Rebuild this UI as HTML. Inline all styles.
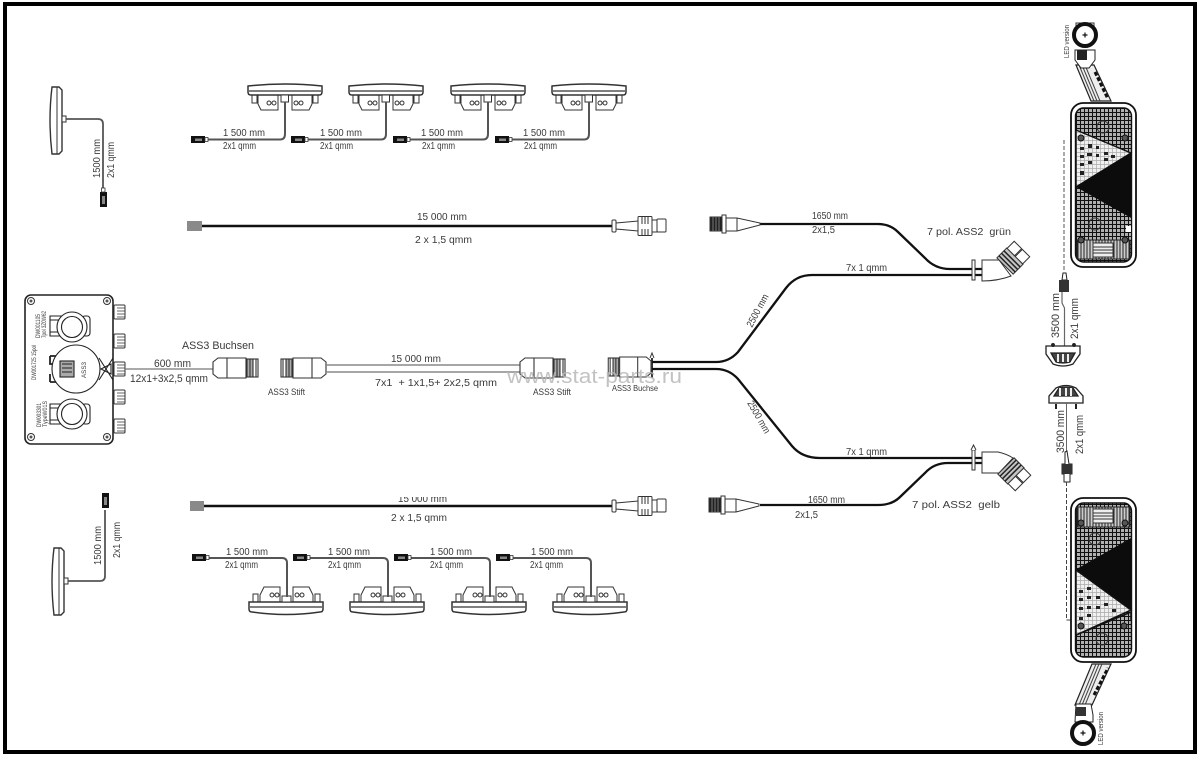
<!DOCTYPE html>
<html><head><meta charset="utf-8"><style>
html,body{margin:0;padding:0;background:#fff;width:1200px;height:757px;overflow:hidden}
svg{display:block;filter:blur(.3px)}
text{font-family:"Liberation Sans",sans-serif;fill:#3a3a3a;font-size:10px}
</style></head><body>
<svg width="1200" height="757" viewBox="0 0 1200 757" xmlns="http://www.w3.org/2000/svg">
<defs>
<pattern id="grid" width="4" height="4" patternUnits="userSpaceOnUse"><rect width="4" height="4" fill="#b0b0b0"/><path d="M0 .5H4M.5 0V4" stroke="#111" stroke-width="1"/></pattern>
<pattern id="light" width="4" height="4" patternUnits="userSpaceOnUse"><rect width="4" height="4" fill="#f0f0f0"/><path d="M0 .5H4M.5 0V4" stroke="#aaa" stroke-width=".7"/></pattern>
<pattern id="vert" width="3" height="3" patternUnits="userSpaceOnUse"><rect width="3" height="3" fill="#ccc"/><path d="M1 0V3" stroke="#222" stroke-width="1"/></pattern>
<g id="lampT" fill="#fff" stroke="#333" stroke-width="1">
<path d="M4 12V20H9V12Z"/><path d="M65 12V20H70V12Z"/>
<path d="M10 12H30V27H13L10 21Z"/><path d="M44 12H64V21L61 27H44Z"/>
<circle cx="21" cy="20" r="2"/><circle cx="26" cy="20" r="2"/><circle cx="48" cy="20" r="2"/><circle cx="53" cy="20" r="2"/>
<path d="M0 3Q37 -1 74 3V9Q74 12 71 12H3Q0 12 0 9Z" stroke-width="1.500"/><path d="M1 8H73" stroke-width="1.200"/>
<rect x="33" y="12" width="7.500" height="7"/>
</g>
<g id="lampB" fill="#fff" stroke="#333" stroke-width="1">
<path d="M4 15V7H9V15Z"/><path d="M66 15V7H71V15Z"/>
<path d="M11 15V8L15 0H31V15Z"/><path d="M44 15V0H60L64 8V15Z"/>
<circle cx="23" cy="8" r="2"/><circle cx="28" cy="8" r="2"/><circle cx="48" cy="8" r="2"/><circle cx="53" cy="8" r="2"/>
<path d="M0 15H74V22Q74 25 71 25Q37 30 3 25Q0 25 0 22Z" stroke-width="1.500"/><path d="M1 20H73" stroke-width="1.200"/>
<rect x="33" y="9" width="9" height="6"/>
</g>
<g id="plugH"><rect x="0" y="0" width="14" height="7" fill="#111"/><rect x="4" y="2.500" width="7" height="2.500" fill="#888"/><rect x="14" y="1.500" width="3" height="4" fill="#fff" stroke="#333" stroke-width=".8"/></g>
<g id="stub" fill="#fff" stroke="#333" stroke-width="1"><rect x="0" y="0" width="11" height="14" rx="1"/><path d="M3 3H11M3 6H11M3 9H11M3 12H11" stroke-width=".8"/></g>
<g id="male" fill="#fff" stroke="#333" stroke-width="1">
<rect x="0" y="-6" width="4" height="12" rx="1"/><path d="M4 -3L26 -5V5L4 3Z"/>
<rect x="26" y="-9.500" width="14" height="19" rx="1"/><path d="M30 -9V-2M33 -9V-2M36 -9V-2M30 9V3M33 9V3M36 9V3"/>
<rect x="40" y="-6" width="5" height="12"/><rect x="45" y="-7" width="9" height="13" rx="1"/>
</g>
<g id="female" fill="#fff" stroke="#333" stroke-width="1">
<rect x="0" y="-7" width="12" height="14" fill="#222"/><path d="M3 -7V7M6 -7V7M9 -7V7" stroke="#777"/>
<rect x="12" y="-9" width="4" height="18"/><path d="M16 -6H27L50 -1V1L27 7H16Z"/><path d="M27 -6V7"/>
</g>
<g id="head" fill="#fff" stroke="#333" stroke-width="1">
<rect x="0" y="-11.500" width="14" height="23" fill="#c4c4c4"/>
<path d="M3 -11.500V11.500M6.500 -11.500V11.500M10 -11.500V11.500" stroke="#222" stroke-width="1.500"/>
<rect x="14" y="-11" width="10" height="10.500"/><rect x="14" y=".5" width="10" height="10.500"/>
</g>
<g id="ass" fill="#fff" stroke="#333" stroke-width="1.100">
<path d="M0 -6L5 -10H33V10H5L0 6Z"/><path d="M14 -10V10"/><rect x="34" y="-9" width="6" height="18" fill="#aaa"/><rect x="40" y="-9" width="5" height="18" fill="#fff"/><path d="M37 -9V9M43 -9V9"/>
</g>
</defs>
<rect width="1200" height="757" fill="#fff"/>
<rect x="5" y="4" width="1190" height="748" fill="none" stroke="#000" stroke-width="4"/>

<!-- left-top side lamp -->
<g fill="#fff" stroke="#333"><path d="M52 87H59L62 90V151L59 154H52Q48 120 52 87Z" stroke-width="1.400"/><path d="M57 87V154"/><rect x="62" y="116" width="4" height="6"/></g>
<path d="M66 119H98Q103 119 103 124V190" fill="none" stroke="#555" stroke-width="1.800"/>
<rect x="100" y="192" width="7" height="15" fill="#111"/><rect x="102" y="196" width="3" height="8" fill="#888"/><rect x="101.500" y="188" width="3.500" height="4" fill="#fff" stroke="#333" stroke-width=".8"/>
<text transform="translate(100,178) rotate(-90)" textLength="39" lengthAdjust="spacingAndGlyphs">1500 mm</text>
<text transform="translate(114,178) rotate(-90)" textLength="36" lengthAdjust="spacingAndGlyphs">2x1 qmm</text>

<!-- top lamps -->
<use href="#lampT" x="248" y="83"/><use href="#lampT" x="349" y="83"/><use href="#lampT" x="451" y="83"/><use href="#lampT" x="552" y="83"/>
<g fill="none" stroke="#555" stroke-width="2">
<path d="M208 139.500H280Q285 139.500 285 134V102"/><path d="M308 139.500H381Q386 139.500 386 134V102"/><path d="M410 139.500H483Q488 139.500 488 134V102"/><path d="M512 139.500H584Q589 139.500 589 134V102"/>
</g>
<use href="#plugH" x="191" y="136"/><use href="#plugH" x="291" y="136"/><use href="#plugH" x="393" y="136"/><use href="#plugH" x="495" y="136"/>
<g>
<text x="223" y="136" textLength="42" lengthAdjust="spacingAndGlyphs">1 500 mm</text><text x="223" y="149" textLength="33" lengthAdjust="spacingAndGlyphs">2x1 qmm</text>
<text x="320" y="136" textLength="42" lengthAdjust="spacingAndGlyphs">1 500 mm</text><text x="320" y="149" textLength="33" lengthAdjust="spacingAndGlyphs">2x1 qmm</text>
<text x="421" y="136" textLength="42" lengthAdjust="spacingAndGlyphs">1 500 mm</text><text x="422" y="149" textLength="33" lengthAdjust="spacingAndGlyphs">2x1 qmm</text>
<text x="523" y="136" textLength="42" lengthAdjust="spacingAndGlyphs">1 500 mm</text><text x="524" y="149" textLength="33" lengthAdjust="spacingAndGlyphs">2x1 qmm</text>
</g>

<!-- long line 1 -->
<rect x="187" y="221" width="15" height="10" fill="#8a8a8a"/>
<path d="M202 226H612" stroke="#111" stroke-width="2.400"/>
<use href="#male" x="612" y="226"/>
<text x="417" y="220" textLength="50" lengthAdjust="spacingAndGlyphs">15 000 mm</text>
<text x="415" y="243" textLength="57" lengthAdjust="spacingAndGlyphs">2 x 1,5 qmm</text>

<!-- control box -->
<rect x="25" y="295" width="88" height="149" rx="6" fill="#fff" stroke="#222" stroke-width="1.600"/>
<g fill="#fff" stroke="#333"><circle cx="31" cy="301" r="3.500"/><circle cx="107" cy="301" r="3.500"/><circle cx="31" cy="437" r="3.500"/><circle cx="107" cy="437" r="3.500"/></g>
<g fill="#555"><circle cx="31" cy="301" r="1.500"/><circle cx="107" cy="301" r="1.500"/><circle cx="31" cy="437" r="1.500"/><circle cx="107" cy="437" r="1.500"/></g>
<use href="#stub" x="114" y="305"/><use href="#stub" x="114" y="334"/><use href="#stub" x="114" y="362"/><use href="#stub" x="114" y="390"/><use href="#stub" x="114" y="419"/>
<g fill="#fff" stroke="#222" stroke-width="1.100">
<path d="M50 316H62V336H50Z"/><path d="M50 320H62M50 332H62"/><rect x="82" y="316" width="8" height="20" rx="3"/><circle cx="72" cy="327" r="15"/><circle cx="72" cy="327" r="10.500"/>
<path d="M50 404H62V424H50Z"/><path d="M50 408H62M50 420H62"/><rect x="82" y="404" width="8" height="20" rx="3"/><circle cx="72" cy="414" r="15"/><circle cx="72" cy="414" r="10.500"/>
<path d="M50 356H62M50 356V364H60V382M50 382H62M50 374V382" fill="none" stroke-width="1.800"/>
<circle cx="76" cy="369" r="24"/>
<rect x="60" y="361" width="14" height="16" fill="#aaa"/><path d="M62 364H72M62 368H72M62 372H72"/>
<path d="M99 358L113 380M113 358L99 380M101 369L111 364V374Z"/>
</g>
<text transform="translate(40,338) rotate(-90)" textLength="24" lengthAdjust="spacingAndGlyphs" style="font-size:6px">DW001105</text>
<text transform="translate(46,338) rotate(-90)" textLength="27" lengthAdjust="spacingAndGlyphs" style="font-size:6px">7pol 3Z0W62</text>
<text transform="translate(41,427) rotate(-90)" textLength="24" lengthAdjust="spacingAndGlyphs" style="font-size:6px">DW003301</text>
<text transform="translate(47,427) rotate(-90)" textLength="26" lengthAdjust="spacingAndGlyphs" style="font-size:6px">TypeW01S</text>
<text transform="translate(36,380) rotate(-90)" textLength="35" lengthAdjust="spacingAndGlyphs" style="font-size:6px">DW001725 15pol</text>
<text transform="translate(86,378) rotate(-90)" textLength="16" lengthAdjust="spacingAndGlyphs" style="font-size:6px">ASS3</text>

<!-- central harness -->
<path d="M125 369H213" stroke="#777" stroke-width="1.300"/>
<use href="#ass" x="213" y="368"/>
<text x="182" y="349" textLength="72" lengthAdjust="spacingAndGlyphs" style="font-size:11px">ASS3 Buchsen</text>
<text x="154" y="367" textLength="37" lengthAdjust="spacingAndGlyphs" style="font-size:11px">600 mm</text>
<text x="130" y="382" textLength="78" lengthAdjust="spacingAndGlyphs" style="font-size:11px">12x1+3x2,5 qmm</text>
<g transform="translate(326,368) scale(-1,1)"><use href="#ass"/></g>
<path d="M325 365H522M325 372H522" stroke="#888" stroke-width="1.400"/>
<use href="#ass" x="520" y="368"/>
<text x="268" y="395" textLength="37" lengthAdjust="spacingAndGlyphs" style="font-size:9px">ASS3 Stift</text>
<text x="391" y="362" textLength="50" lengthAdjust="spacingAndGlyphs">15 000 mm</text>
<text x="375" y="386" textLength="122" lengthAdjust="spacingAndGlyphs" xml:space="preserve">7x1  + 1x1,5+ 2x2,5 qmm</text>
<text x="533" y="395" textLength="38" lengthAdjust="spacingAndGlyphs" style="font-size:9px">ASS3 Stift</text>
<g transform="translate(651,367) scale(-1,1)"><use href="#ass" transform="scale(.95,1)"/></g>
<text x="612" y="391" textLength="46" lengthAdjust="spacingAndGlyphs" style="font-size:8px">ASS3 Buchse</text>
<path d="M652 354V378" stroke="#333" stroke-width="2"/><path d="M650 358L652 353L654 358" fill="#fff" stroke="#333"/>

<!-- Y branches -->
<g fill="none" stroke="#111" stroke-width="2.300">
<path d="M652 362H716Q729 362 738 352L786 288Q796 275 812 275H982"/>
<path d="M652 369H716Q729 369 738 379L792 446Q802 458 820 458H982"/>
<path d="M760 224H878Q890 224 898 232L925 258Q935 269 950 269H982"/>
<path d="M760 505H878Q892 505 900 497L925 473Q934 463 948 463H982"/>
</g>
<!-- watermark -->
<text x="507" y="383" textLength="175" lengthAdjust="spacingAndGlyphs" style="font-size:20px;fill:#b8b8b8;opacity:.85">www.stat-parts.ru</text>

<use href="#female" x="710" y="224"/>
<use href="#female" x="709" y="505"/>
<text x="812" y="219" textLength="36" lengthAdjust="spacingAndGlyphs">1650 mm</text>
<text x="812" y="233" textLength="23" lengthAdjust="spacingAndGlyphs">2x1,5</text>
<text x="846" y="271" textLength="41" lengthAdjust="spacingAndGlyphs">7x 1 qmm</text>
<text x="846" y="455" textLength="41" lengthAdjust="spacingAndGlyphs">7x 1 qmm</text>
<text x="808" y="503" textLength="37" lengthAdjust="spacingAndGlyphs">1650 mm</text>
<text x="795" y="518" textLength="23" lengthAdjust="spacingAndGlyphs">2x1,5</text>
<text transform="translate(752,328) rotate(-62)" textLength="36" lengthAdjust="spacingAndGlyphs">2500 mm</text>
<text transform="translate(747,403) rotate(60)" textLength="36" lengthAdjust="spacingAndGlyphs">2500 mm</text>
<text x="927" y="235" textLength="84" lengthAdjust="spacingAndGlyphs" xml:space="preserve">7 pol. ASS2  grün</text>
<text x="912" y="508" textLength="88" lengthAdjust="spacingAndGlyphs" xml:space="preserve">7 pol. ASS2  gelb</text>

<!-- angled plugs -->
<g stroke="#333" fill="#fff">
<path d="M982 260H999L1011 276Q998 281 982 281Z"/>
<rect x="972" y="260" width="3" height="20" stroke-width="1"/>
<use href="#head" transform="translate(1005,266) rotate(-45)"/>
</g>
<g stroke="#333" fill="#fff">
<path d="M982 452H998Q1007 454 1013 458L999 473H982Z"/>
<rect x="972" y="450" width="3" height="20" stroke-width="1"/>
<path d="M971 450L973.500 445L976 450" />
<use href="#head" transform="translate(1006,466) rotate(45)"/>
</g>

<!-- long line 2 -->
<rect x="190" y="501" width="14" height="10" fill="#8a8a8a"/>
<path d="M204 506H612" stroke="#111" stroke-width="2.400"/>
<use href="#male" x="612" y="506"/>
<text x="398" y="502" textLength="49" lengthAdjust="spacingAndGlyphs">15 000 mm</text>
<text x="391" y="521" textLength="56" lengthAdjust="spacingAndGlyphs">2 x 1,5 qmm</text>
<rect x="380" y="488" width="80" height="9" fill="#fff"/>

<!-- bottom-left side lamp -->
<g fill="#fff" stroke="#333"><path d="M54 548H61L64 551V612L61 615H54Q50 581 54 548Z" stroke-width="1.400"/><path d="M59 548V615"/><rect x="64" y="578" width="4" height="6"/></g>
<path d="M68 581H100Q105 581 105 576V510" fill="none" stroke="#555" stroke-width="1.800"/>
<rect x="102" y="493" width="7" height="15" fill="#111"/><rect x="104" y="497" width="3" height="8" fill="#888"/>
<text transform="translate(101,565) rotate(-90)" textLength="39" lengthAdjust="spacingAndGlyphs">1500 mm</text>
<text transform="translate(120,558) rotate(-90)" textLength="36" lengthAdjust="spacingAndGlyphs">2x1 qmm</text>

<!-- bottom lamps -->
<use href="#lampB" x="249" y="587"/><use href="#lampB" x="350" y="587"/><use href="#lampB" x="452" y="587"/><use href="#lampB" x="553" y="587"/>
<g fill="none" stroke="#555" stroke-width="2">
<path d="M209 558H282Q287 558 287 563V597"/><path d="M310 558H383Q388 558 388 563V597"/><path d="M411 558H485Q490 558 490 563V597"/><path d="M513 558H586Q591 558 591 563V597"/>
</g>
<use href="#plugH" x="192" y="554"/><use href="#plugH" x="293" y="554"/><use href="#plugH" x="394" y="554"/><use href="#plugH" x="496" y="554"/>
<text x="226" y="555" textLength="42" lengthAdjust="spacingAndGlyphs">1 500 mm</text><text x="225" y="568" textLength="33" lengthAdjust="spacingAndGlyphs">2x1 qmm</text>
<text x="328" y="555" textLength="42" lengthAdjust="spacingAndGlyphs">1 500 mm</text><text x="328" y="568" textLength="33" lengthAdjust="spacingAndGlyphs">2x1 qmm</text>
<text x="430" y="555" textLength="42" lengthAdjust="spacingAndGlyphs">1 500 mm</text><text x="430" y="568" textLength="33" lengthAdjust="spacingAndGlyphs">2x1 qmm</text>
<text x="531" y="555" textLength="42" lengthAdjust="spacingAndGlyphs">1 500 mm</text><text x="530" y="568" textLength="33" lengthAdjust="spacingAndGlyphs">2x1 qmm</text>

<!-- right top rear lamp -->
<path d="M1076 23H1094V30H1076Z" fill="#fff" stroke="#333"/>
<circle cx="1085" cy="35" r="11" fill="#fff" stroke="#111" stroke-width="4"/><path d="M1082.500 35H1087.500M1085 32.500V37.500" stroke="#111" stroke-width="1.200"/>
<path d="M1076 65L1091 101H1111L1094 65Z" fill="#eee" stroke="#222" stroke-width="1.200"/>
<path d="M1079 65L1094 101M1082 65L1097 101M1085 65L1100 101" stroke="#444"/><path d="M1095 72L1108 99" stroke="#111" stroke-width="3" stroke-dasharray="4 2"/>
<path d="M1075 50H1095V60L1089 68H1081L1075 60Z" fill="#fff" stroke="#222"/><rect x="1077" y="50" width="10" height="10" fill="#222"/>
<text transform="translate(1069,58) rotate(-90)" textLength="33" lengthAdjust="spacingAndGlyphs" style="font-size:7px">LED version</text>

<g>
<rect x="1071" y="103" width="65" height="164" rx="12" fill="#fff" stroke="#111" stroke-width="1.800"/>
<rect x="1075.500" y="108" width="56" height="154" rx="8" fill="url(#grid)" stroke="#111" stroke-width="1.400"/>
<path d="M1076 130L1131 153L1076 187Z" fill="url(#light)" stroke="#111" stroke-width="1.400"/>
<g fill="#222"><rect x="1080" y="147" width="4" height="3"/><rect x="1088" y="144" width="4" height="4"/><rect x="1096" y="146" width="3" height="3"/><rect x="1080" y="155" width="4" height="3"/><rect x="1087" y="153" width="5" height="3"/><rect x="1096" y="154" width="3" height="3"/><rect x="1104" y="152" width="4" height="3"/><rect x="1111" y="155" width="4" height="3"/><rect x="1080" y="163" width="4" height="3"/><rect x="1088" y="161" width="4" height="3"/><rect x="1104" y="158" width="4" height="3"/><rect x="1080" y="171" width="4" height="4"/></g>
<path d="M1075 187L1131 153V218Z" fill="#0c0c0c"/>
<path d="M1076 187L1131 218V240H1076Z" fill="url(#grid)"/>
<rect x="1126" y="226" width="5" height="6" fill="#fff"/>
<rect x="1077" y="240" width="53" height="19" fill="url(#vert)" stroke="#222"/>
<rect x="1093" y="243" width="20" height="14" fill="#eee" stroke="#333"/><path d="M1093 247H1113M1093 250H1113M1093 253H1113" stroke="#333"/>
<g fill="#555" stroke="#111"><circle cx="1081" cy="138" r="3"/><circle cx="1125" cy="138" r="3"/><circle cx="1081" cy="240" r="3"/><circle cx="1125" cy="240" r="3"/></g>
<circle cx="1103" cy="127" r="6" fill="none" stroke="#333"/><circle cx="1095" cy="224" r="6" fill="none" stroke="#333"/>
</g>

<path d="M1064 140V272" stroke="#555" stroke-width="1" stroke-dasharray="4 2"/>
<!-- mid small lamps -->
<path d="M1062 280L1063 273H1066L1067 280Z" fill="#fff" stroke="#222"/><rect x="1059" y="280" width="10" height="12" fill="#333"/>
<path d="M1062 292V303L1064.500 308V346" fill="none" stroke="#666" stroke-width="1.200"/>
<text transform="translate(1059,338) rotate(-90)" textLength="45" lengthAdjust="spacingAndGlyphs" style="font-size:11px">3500 mm</text>
<text transform="translate(1078,339) rotate(-90)" textLength="41" lengthAdjust="spacingAndGlyphs" style="font-size:11px">2x1 qmm</text>
<g fill="#fff" stroke="#222" stroke-width="1.300">
<path d="M1046 346H1080V354L1073 364Q1063 368 1053 364L1046 354Z"/>
<path d="M1051 353H1075L1070 362Q1063 364 1056 362Z" fill="#444"/><path d="M1058 354V362M1063 354V362M1068 354V362" stroke="#eee" stroke-width="2"/>
<circle cx="1053" cy="345" r="1.300" fill="#222"/><circle cx="1074" cy="345" r="1.300" fill="#222"/>
</g>
<g fill="#fff" stroke="#222" stroke-width="1.300">
<path d="M1049 403V396L1056 388Q1066 383 1076 388L1083 396V403Z"/>
<path d="M1054 396H1078L1073 388Q1066 386 1059 388Z" fill="#444"/><path d="M1060 388V396M1066 388V396M1071 388V396" stroke="#eee" stroke-width="2"/>
<path d="M1056 404V409M1076 404V409" stroke-width="2"/>
</g>
<path d="M1066.500 403V452" stroke="#666"/>
<text transform="translate(1064,453) rotate(-90)" textLength="43" lengthAdjust="spacingAndGlyphs" style="font-size:11px">3500 mm</text>
<text transform="translate(1083,454) rotate(-90)" textLength="39" lengthAdjust="spacingAndGlyphs" style="font-size:11px">2x1 qmm</text>
<path d="M1065 452L1067 451L1069 464H1072V474H1070V482H1064V474H1062V464H1065Z" fill="#fff" stroke="#222"/><rect x="1062" y="464" width="10" height="10" fill="#333"/>
<path d="M1066.500 482V620H1076" fill="none" stroke="#444" stroke-dasharray="4 2"/>

<!-- right bottom rear lamp -->
<g>
<rect x="1071" y="498" width="65" height="164" rx="12" fill="#fff" stroke="#111" stroke-width="1.800"/>
<rect x="1075.500" y="503" width="56" height="154" rx="8" fill="url(#grid)" stroke="#111" stroke-width="1.400"/>
<rect x="1077" y="507" width="53" height="20" fill="url(#vert)" stroke="#222"/>
<rect x="1093" y="509" width="20" height="14" fill="#eee" stroke="#333"/><path d="M1093 513H1113M1093 516H1113M1093 519H1113" stroke="#333"/>
<path d="M1075 570L1131 538V610Z" fill="#0c0c0c"/>
<path d="M1076 570L1131 610L1076 635Z" fill="url(#light)" stroke="#111" stroke-width="1.400"/>
<g fill="#222"><rect x="1079" y="590" width="4" height="3"/><rect x="1087" y="587" width="4" height="3"/><rect x="1079" y="598" width="4" height="3"/><rect x="1087" y="596" width="4" height="3"/><rect x="1096" y="596" width="4" height="3"/><rect x="1104" y="603" width="4" height="3"/><rect x="1079" y="607" width="4" height="3"/><rect x="1087" y="606" width="4" height="3"/><rect x="1096" y="606" width="4" height="3"/><rect x="1079" y="617" width="4" height="3"/><rect x="1087" y="614" width="4" height="3"/><rect x="1112" y="609" width="4" height="3"/></g>
<path d="M1076 635L1131 612V620" fill="none" stroke="#111" stroke-width="1.500"/>
<g fill="#555" stroke="#111"><circle cx="1081" cy="523" r="3"/><circle cx="1125" cy="523" r="3"/><circle cx="1081" cy="626" r="3"/><circle cx="1124" cy="626" r="3"/></g>
<circle cx="1102" cy="639" r="6" fill="none" stroke="#333"/><circle cx="1095" cy="539" r="6" fill="none" stroke="#333"/>
</g>
<path d="M1075 705L1092 664H1111L1092 705Z" fill="#eee" stroke="#222" stroke-width="1.200"/>
<path d="M1079 705L1096 664M1082 705L1099 664M1085 705L1102 664" stroke="#444"/><path d="M1094 695L1108 668" stroke="#111" stroke-width="3" stroke-dasharray="4 2"/>
<path d="M1076 704H1091L1093 715V722H1075Z" fill="#fff" stroke="#222"/><rect x="1076" y="707" width="10" height="9" fill="#333"/>
<circle cx="1083" cy="733" r="11" fill="#fff" stroke="#111" stroke-width="4"/><path d="M1080.500 733H1085.500M1083 730.500V735.500" stroke="#111" stroke-width="1.200"/>
<text transform="translate(1103,745) rotate(-90)" textLength="33" lengthAdjust="spacingAndGlyphs" style="font-size:7px">LED version</text>
</svg>
</body></html>
